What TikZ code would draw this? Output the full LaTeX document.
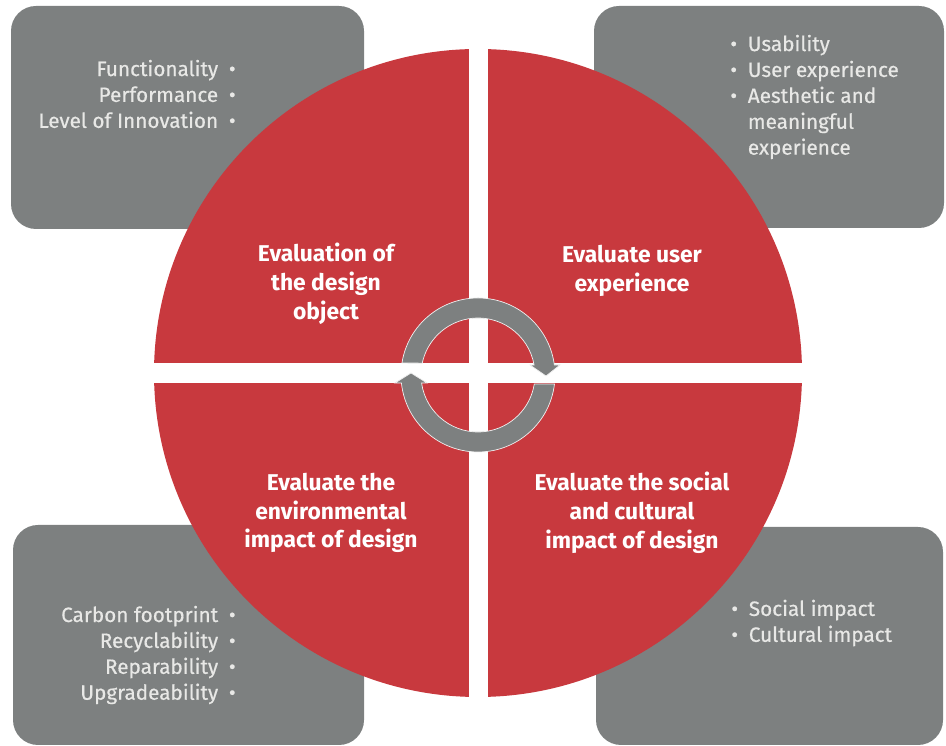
\documentclass[tikz,border=0pt]{standalone}
\usepackage{fontspec}
\setmainfont{Fira Sans}
\newfontfamily\itemfont{Fira Sans}[FakeBold=0.5]
\definecolor{panelgray}{HTML}{7D8080}
\definecolor{wheelred}{HTML}{C8393E}
\definecolor{itemtext}{HTML}{E8E8E6}
\newcommand{\lbul}{•\kern3pt\ }
\newcommand{\rbul}{\ \kern3pt•}
\tikzset{
    panel/.style={fill=panelgray, rounded corners=0.5cm},
    quarter/.style={text=white, align=center, inner sep=0pt,
    	font=\bfseries\fontsize{13}{16.4}\selectfont},
    items/.style={text=itemtext, inner sep=0pt,
    	font=\itemfont\fontsize{11.8}{14.75}\selectfont},
    ring/.style={fill=panelgray, draw=white!88!gray, line width=0.4pt}
}

\begin{document}
\begin{tikzpicture}[x=0.02cm, y=0.02cm]
	\useasboundingbox (0,0) rectangle (946,746);
	% grey panels
	\fill[panel] (11,740) rectangle (364,517);
	\fill[panel] (594,740) rectangle (944,518);
	\fill[panel] (13,221) rectangle (364,1);
	\fill[panel] (596,219) rectangle (943,1);
	% the wheel, cut in four
	\fill[wheelred] (478,373) circle (324);
	\fill[white] (469,40) rectangle (488,706);
	\fill[white] (145,363) rectangle (811,383);
	% the two arrows
	\begin{scope}[shift={(478,371)}]
		\fill[ring] (171:77) arc[start angle=171, end angle=7.5, radius=77]
			-- (82,10) -- (68,-1) -- (52,10)
			-- (10:57) arc[start angle=10, end angle=168, radius=57] -- cycle;
		\fill[ring] (-6.7:77) arc[start angle=-6.7, end angle=-174, radius=77]
			-- (-83,-8) -- (-67,2) -- (-51,-8)
			-- (-171.9:57) arc[start angle=-171.9, end angle=-9.1, radius=57] -- cycle;
	\end{scope}
	\node[quarter] (object) at (326,462) {Evaluation of\\the design\\object};
	\node[quarter] (user) at (632,475) {Evaluate user\\experience};
	\node[quarter] (env) at (331,233) {Evaluate the\\environmental\\impact of design};
	\node[quarter] (social) at (632,233) {Evaluate the social\\and cultural\\impact of design};
	\node[items, align=right, anchor=east] (objlist) at (236,652)
		{Functionality\rbul\\Performance\rbul\\Level of Innovation\rbul};
	\node[items, align=left, anchor=west] (userlist) at (730,649)
		{\lbul Usability\\\lbul User experience\\\lbul Aesthetic and\\\hphantom{\lbul}meaningful\\\hphantom{\lbul}experience};
	\node[items, align=right, anchor=east] (envlist) at (236,91)
		{Carbon footprint\rbul\\Recyclability\rbul\\Reparability\rbul\\Upgradeability\rbul};
	\node[items, align=left, anchor=west] (sociallist) at (731,123)
		{\lbul Social impact\\\lbul Cultural impact};
\end{tikzpicture}
\end{document}
